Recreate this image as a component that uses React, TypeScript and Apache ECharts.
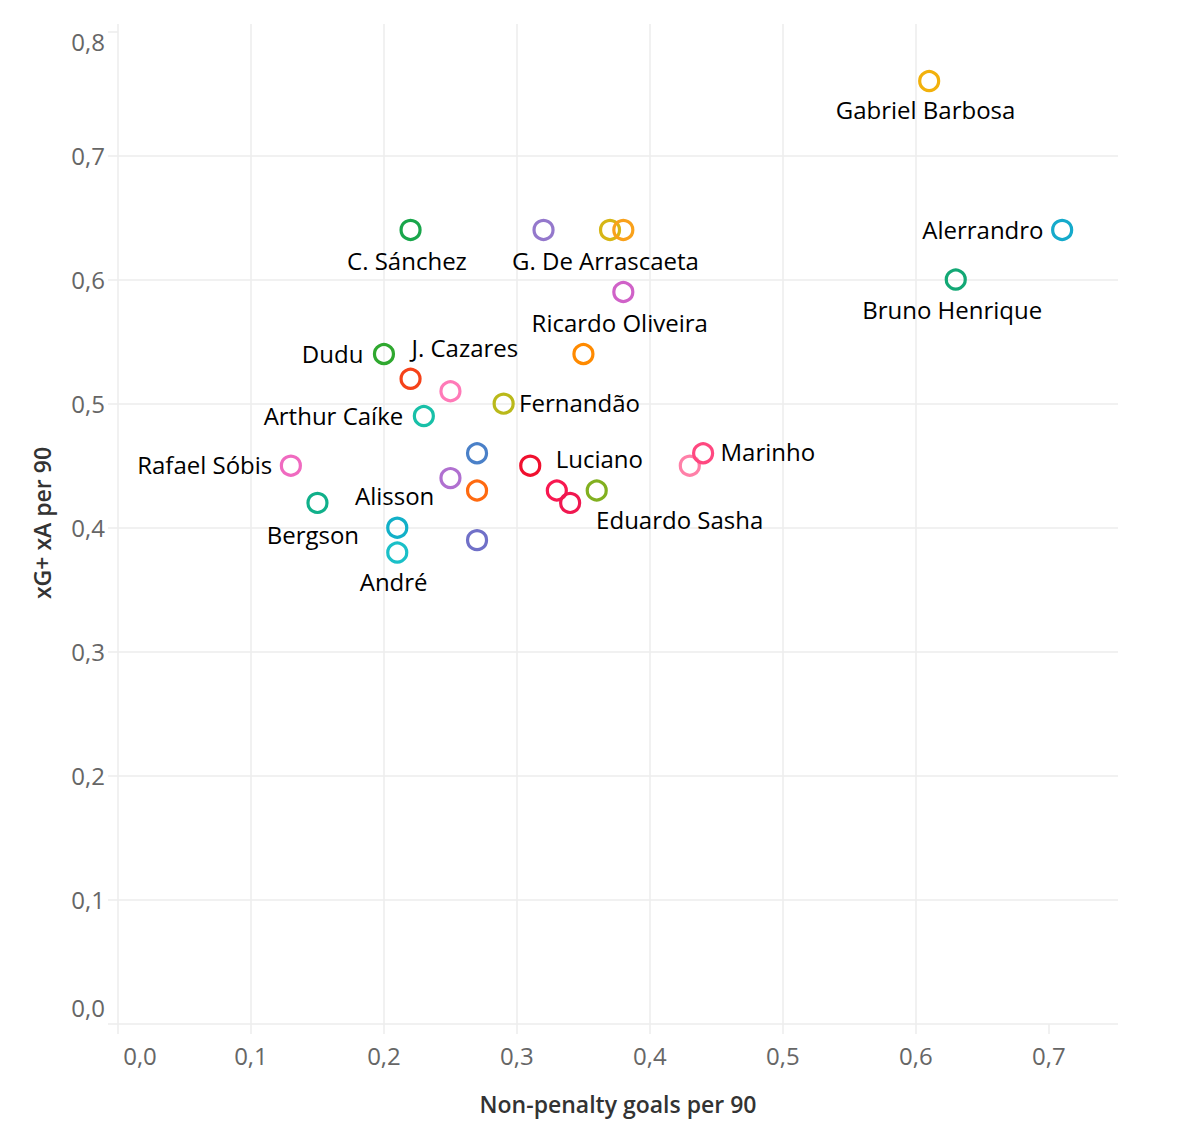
import React, { useEffect, useRef } from "react";
import * as echarts from "echarts";

// ---- data ----
const players: string[] = [
  "Gabriel Barbosa", "Alerrandro", "Bruno Henrique", "C. Sánchez", "",
  "G. De Arrascaeta", "", "Ricardo Oliveira", "", "Dudu",
  "", "J. Cazares", "Fernandão", "Arthur Caíke", "Rafael Sóbis",
  "Bergson", "Alisson", "André", "", "",
  "", "", "Luciano", "", "",
  "Eduardo Sasha", "", "Marinho",
];
const npg90: number[] = [
  0.61, 0.71, 0.63, 0.22, 0.32,
  0.37, 0.38, 0.38, 0.35, 0.2,
  0.22, 0.25, 0.29, 0.23, 0.13,
  0.15, 0.21, 0.21, 0.27, 0.25,
  0.27, 0.27, 0.31, 0.33, 0.34,
  0.36, 0.43, 0.44,
];
const xgxa90: number[] = [
  0.76, 0.64, 0.6, 0.64, 0.64,
  0.64, 0.64, 0.59, 0.54, 0.54,
  0.52, 0.51, 0.5, 0.49, 0.45,
  0.42, 0.4, 0.38, 0.46, 0.44,
  0.43, 0.39, 0.45, 0.43, 0.42,
  0.43, 0.45, 0.46,
];
const tickValues: number[] = [0, 0.1, 0.2, 0.3, 0.4, 0.5, 0.6, 0.7];
const yTickValues: number[] = [0, 0.1, 0.2, 0.3, 0.4, 0.5, 0.6, 0.7, 0.8];
const xTitle = "Non-penalty goals per 90";
const yTitle = "xG+ xA per 90";

// ---- styles ----
const colors: string[] = [
  "#f2b10c", "#15aacb", "#13a875", "#19a64b", "#9478cc",
  "#d6b616", "#f9a11b", "#d062c8", "#ff8a00", "#2fa82f",
  "#f5421a", "#ff7ab8", "#bab91a", "#18c0a8", "#f06ac0",
  "#10b08a", "#12b0c8", "#1ac0c8", "#4a80c8", "#b070d0",
  "#ff6a10", "#7070c8", "#f0102e", "#f81850", "#f01850",
  "#82b020", "#ff80a8", "#ff4880",
];
// label anchor relative to the point centre (px) and horizontal alignment
type LabelSpec = { dx: number; dy: number; align: "left" | "center" | "right" };
const labelSpecs: Record<string, LabelSpec> = {
  "Gabriel Barbosa": { dx: -2, dy: 30, align: "center" },
  "Alerrandro": { dx: -17, dy: 1, align: "right" },
  "Bruno Henrique": { dx: -2, dy: 32, align: "center" },
  "C. Sánchez": { dx: -2, dy: 32, align: "center" },
  "G. De Arrascaeta": { dx: -3, dy: 32, align: "center" },
  "Ricardo Oliveira": { dx: -2, dy: 32, align: "center" },
  "Dudu": { dx: -19, dy: 1, align: "right" },
  "J. Cazares": { dx: 16, dy: -42, align: "center" },
  "Fernandão": { dx: 17, dy: 0, align: "left" },
  "Arthur Caíke": { dx: -19, dy: 1, align: "right" },
  "Rafael Sóbis": { dx: -17, dy: 0, align: "right" },
  "Bergson": { dx: -3, dy: 33, align: "center" },
  "Alisson": { dx: -1, dy: -31, align: "center" },
  "André": { dx: -2, dy: 31, align: "center" },
  "Luciano": { dx: 27, dy: -6, align: "left" },
  "Eduardo Sasha": { dx: 1, dy: 31, align: "left" },
  "Marinho": { dx: 19, dy: 0, align: "left" },
};

const FONT = "'Open Sans', 'Noto Sans', sans-serif";
const GRID = "#ececec";
const SYMBOL = 19;
const fmt = (v: number) => v.toFixed(1).replace(".", ",");

export default function App() {
  const ref = useRef<HTMLDivElement>(null);
  useEffect(() => {
    if (!ref.current) return;
    const chart = echarts.init(ref.current, undefined, { renderer: "svg" });
    const data = players.map((name, i) => {
      const spec = name ? labelSpecs[name] : undefined;
      const item: any = {
        value: [npg90[i], xgxa90[i]],
        itemStyle: {
          color: "rgba(0,0,0,0)",
          borderColor: colors[i],
          borderWidth: 3.2,
          opacity: 1,
        },
      };
      if (spec) {
        item.label = {
          show: true,
          formatter: name,
          position: [SYMBOL / 2 + spec.dx, SYMBOL / 2 + spec.dy],
          align: spec.align,
          verticalAlign: "middle",
          color: "#000",
          fontSize: 24,
          fontFamily: FONT,
        };
      } else {
        item.label = { show: false };
      }
      return item;
    });
    chart.setOption({
      animation: false,
      backgroundColor: "#ffffff",
      grid: { left: 118, right: 74, top: 24, bottom: 114, containLabel: false },
      xAxis: {
        type: "value",
        min: 0,
        max: 0.752,
        interval: 0.1,
        axisLine: { show: false },
        axisTick: {
          show: true,
          length: 10,
          customValues: tickValues,
          lineStyle: { color: GRID, width: 1.5 },
        },
        axisLabel: {
          customValues: tickValues,
          color: "#666",
          fontSize: 24,
          fontFamily: FONT,
          margin: 19,
          formatter: (v: number) => (v === 0 ? `{first|${fmt(v)}}` : fmt(v)),
          rich: { first: { padding: [0, 0, 0, 44], color: "#666", fontSize: 24, fontFamily: FONT } },
        },
        splitLine: { show: true, showMaxLine: false, lineStyle: { color: GRID, width: 1.5 } },
      },
      yAxis: {
        type: "value",
        min: 0,
        max: 0.806,
        interval: 0.1,
        axisLine: { show: false },
        axisTick: {
          show: true,
          length: 10,
          customValues: yTickValues,
          lineStyle: { color: GRID, width: 1.5 },
        },
        axisLabel: {
          customValues: yTickValues,
          color: "#666",
          fontSize: 24,
          fontFamily: FONT,
          margin: 13,
          formatter: (v: number) =>
            v === 0 ? `{bot|${fmt(v)}}` : Math.abs(v - 0.8) < 1e-6 ? `{top|${fmt(v)}}` : fmt(v),
          rich: {
            top: { padding: [20, 0, 0, 0], color: "#666", fontSize: 24, fontFamily: FONT },
            bot: { padding: [0, 0, 34, 0], color: "#666", fontSize: 24, fontFamily: FONT },
          },
        },
        splitLine: { show: true, showMaxLine: false, lineStyle: { color: GRID, width: 1.5 } },
      },
      graphic: [
        {
          type: "text",
          x: 618,
          y: 1104,
          style: {
            text: xTitle,
            fill: "#333",
            font: `600 23px ${FONT}`,
            align: "center",
            verticalAlign: "middle",
          },
        },
        {
          type: "text",
          x: 42,
          y: 523,
          rotation: Math.PI / 2,
          style: {
            text: yTitle,
            fill: "#333",
            font: `600 23px ${FONT}`,
            align: "center",
            verticalAlign: "middle",
          },
        },
      ],
      series: [
        {
          type: "scatter",
          symbol: "circle",
          symbolSize: SYMBOL,
          data,
          z: 3,
        },
      ],
    });
    return () => chart.dispose();
  }, []);
  return (
    <div
      ref={ref}
      style={{ position: "fixed", left: 0, top: 0, width: 1192, height: 1138, background: "#fff" }}
    />
  );
}
